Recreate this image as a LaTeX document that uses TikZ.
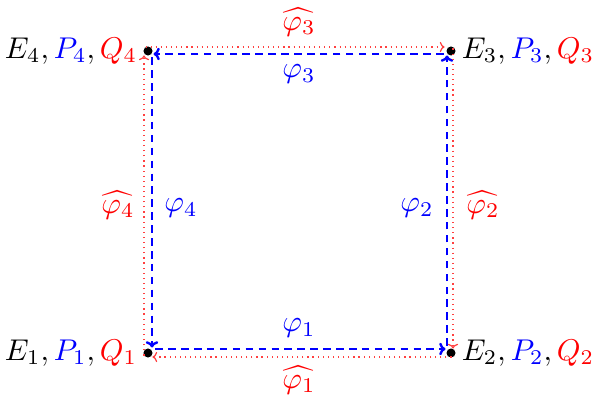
\documentclass[tikz,border=0pt]{standalone}
\usetikzlibrary{arrows.meta}
\tikzset{
  pt/.style={circle,fill=black,inner sep=0pt,minimum size=3pt},
  bl/.style={blue,thick,dashed,dash pattern=on 2.5pt off 1.8pt,-{To[length=2.1pt,width=4.2pt]},shorten <=1.1pt,shorten >=0.5pt},
  rd/.style={red!75,line width=0.4pt,dash pattern=on 0.4pt off 1.3pt,-{To[length=1.6pt,width=3.4pt]},shorten <=0.5pt,shorten >=2.8pt},
  lab/.style={inner sep=1pt},
}
\begin{document}
\begin{tikzpicture}[x=0.333pt,y=-0.333pt]
\useasboundingbox (0,0) rectangle (595,395);
\node[pt] (E1) at (148,353) {};
\node[pt] (E2) at (451,353) {};
\node[pt] (E3) at (451,51) {};
\node[pt] (E4) at (148,51) {};
% corner labels
\node[anchor=east,lab] (L1) at ([xshift=-2.4pt]E1.center) {$E_1,{\color{blue}P_1},{\color{red}Q_1}$};
\node[anchor=west,lab] (L2) at ([xshift=2.4pt]E2.center) {$E_2,{\color{blue}P_2},{\color{red}Q_2}$};
\node[anchor=west,lab] (L3) at ([xshift=2.4pt]E3.center) {$E_3,{\color{blue}P_3},{\color{red}Q_3}$};
\node[anchor=east,lab] (L4) at ([xshift=-2.4pt]E4.center) {$E_4,{\color{blue}P_4},{\color{red}Q_4}$};
% blue cycle (inner)
\draw[bl] ([shift={(4,-4)}]E1.center) -- ([shift={(-4,-4)}]E2.center);
\draw[bl] ([shift={(-4,-4)}]E2.center) -- ([shift={(-4,3)}]E3.center);
\draw[bl] ([shift={(-4,3)}]E3.center) -- ([shift={(4,3)}]E4.center);
\draw[bl] ([shift={(4,3)}]E4.center) -- ([shift={(4,-4)}]E1.center);
% red cycle (outer)
\draw[rd] ([shift={(-4,4)}]E1.center) -- ([shift={(-4,-4)}]E4.center);
\draw[rd] ([shift={(-4,-4)}]E4.center) -- ([shift={(2,-4)}]E3.center);
\draw[rd] ([shift={(2,-4)}]E3.center) -- ([shift={(2,4)}]E2.center);
\draw[rd] ([shift={(2,4)}]E2.center) -- ([shift={(-4,4)}]E1.center);
% edge labels
\node[blue,lab] (p1) at (299,328) {$\varphi_1$};
\node[red,lab] (q1) at (299,380) {$\widehat{\varphi_1}$};
\node[blue,lab] (p3) at (299,74) {$\varphi_3$};
\node[red,lab] (q3) at (299,22) {$\widehat{\varphi_3}$};
\node[blue,lab] (p4) at (181,208) {$\varphi_4$};
\node[red,lab] (q4) at (118,205) {$\widehat{\varphi_4}$};
\node[blue,lab] (p2) at (417,208) {$\varphi_2$};
\node[red,lab] (q2) at (483,205) {$\widehat{\varphi_2}$};
\end{tikzpicture}
\end{document}
